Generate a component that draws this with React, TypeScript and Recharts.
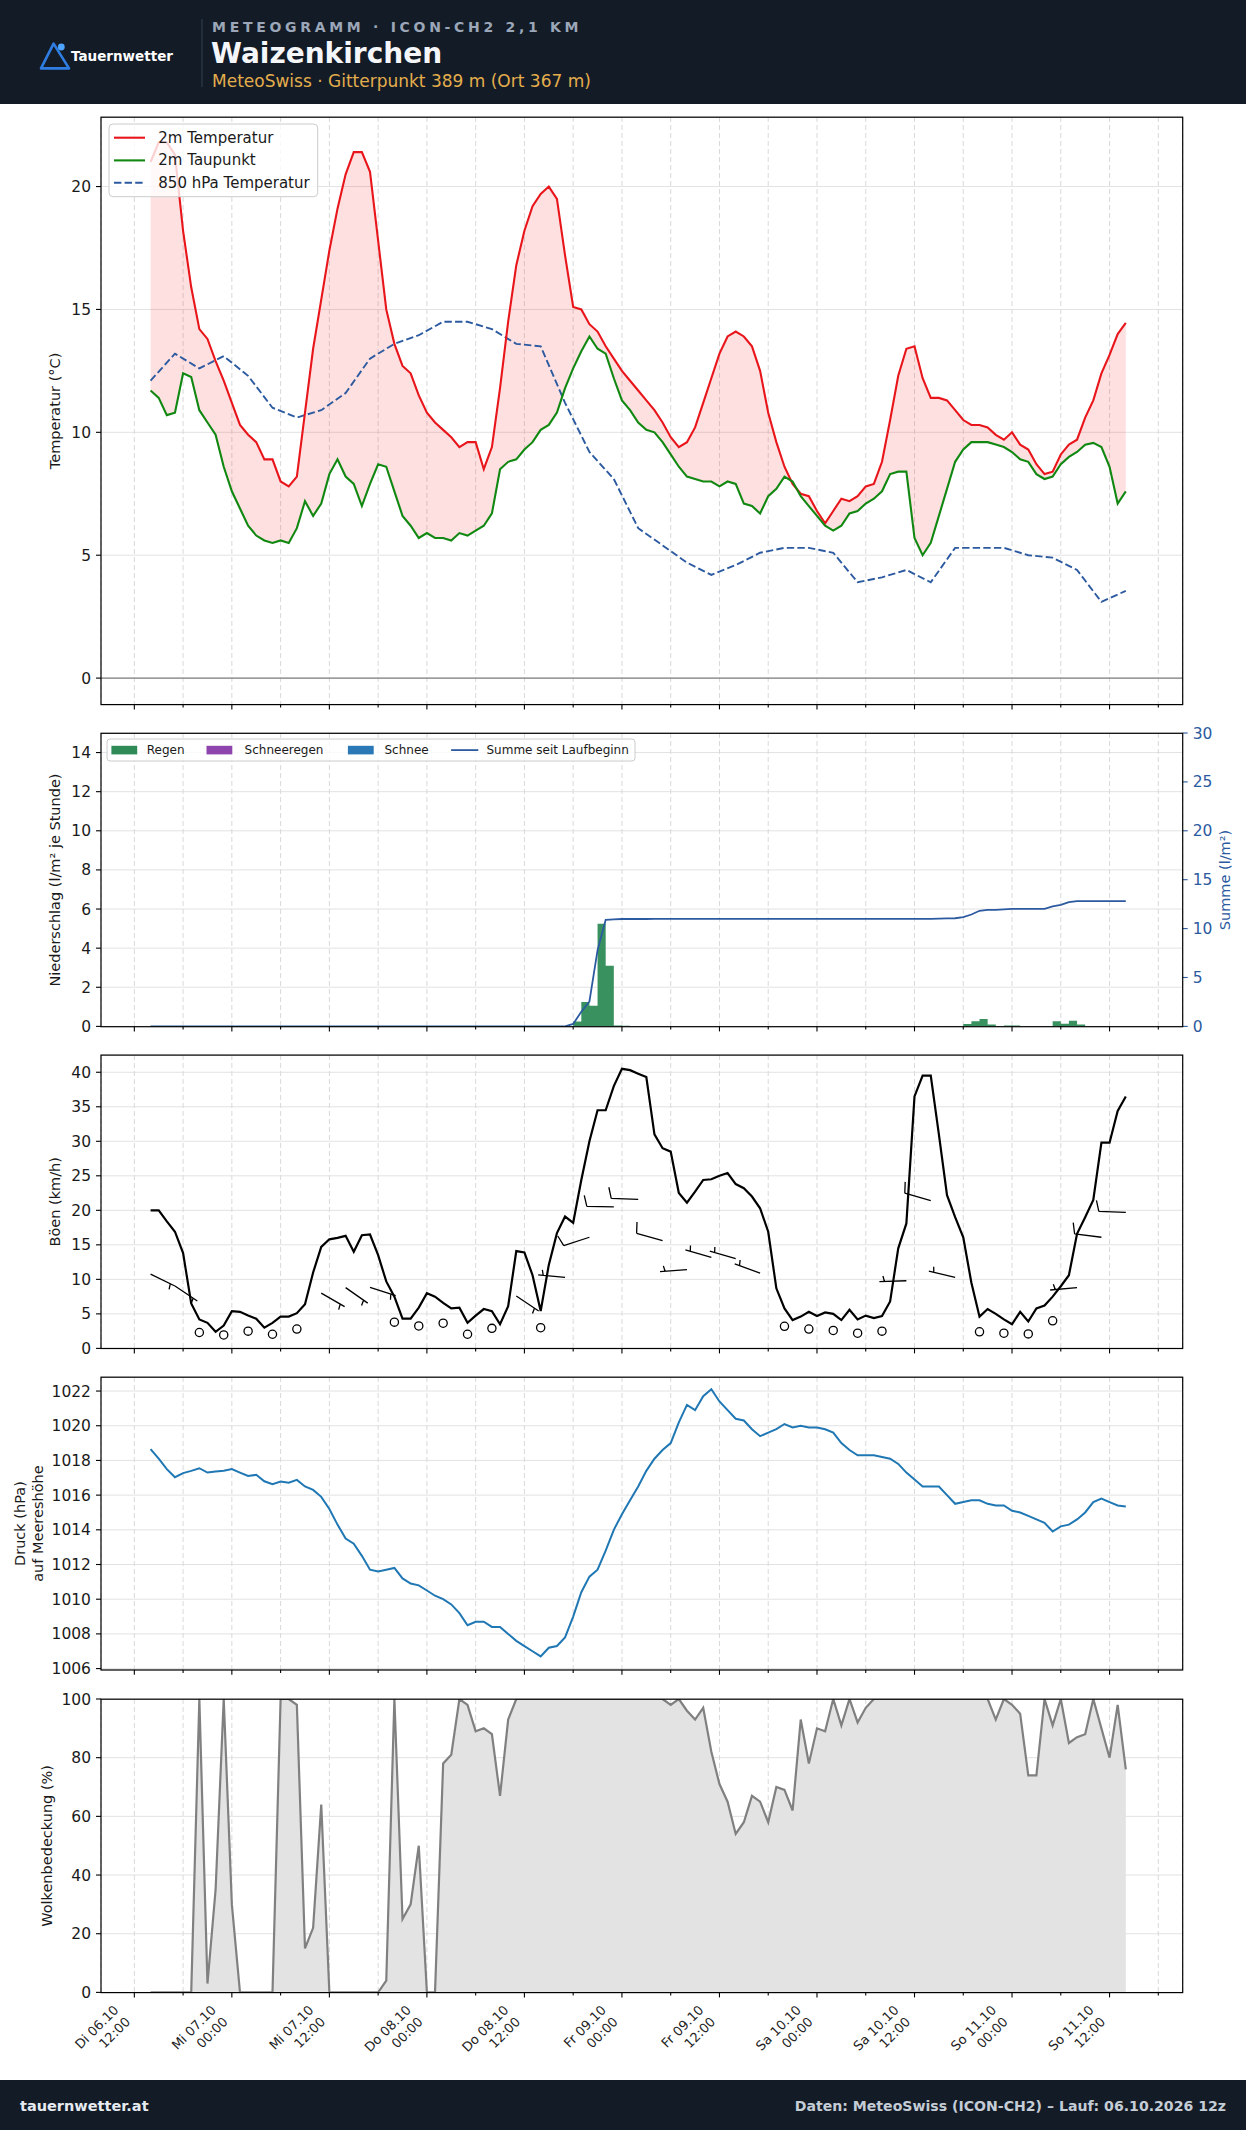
import React from 'react';
import {
  ComposedChart,
  Line,
  Area,
  Scatter,
  XAxis,
  YAxis,
  CartesianGrid,
  ReferenceLine,
} from 'recharts';

const FONT = '"DejaVu Sans", Verdana, sans-serif';

// Hours are counted from Di 06.10 00:00 (local time); the run starts at 14:00.
const START_HOUR = 14;

// ---- hourly model values, Di 06.10 14:00 … So 11.10 14:00 ----
const temp2m = [
  21.0, 21.8, 21.8, 21.3, 18.2, 15.9, 14.2, 13.8, 12.9, 12.1,
  11.2, 10.3, 9.9, 9.6, 8.9, 8.9, 8.0, 7.8, 8.2, 10.8,
  13.4, 15.4, 17.4, 19.1, 20.5, 21.4, 21.4, 20.6, 17.8, 15.0,
  13.6, 12.7, 12.4, 11.5, 10.8, 10.4, 10.1, 9.8, 9.4, 9.6,
  9.6, 8.5, 9.4, 11.8, 14.5, 16.8, 18.2, 19.2, 19.7, 20.0,
  19.5, 17.2, 15.1, 15.0, 14.4, 14.1, 13.5, 13.0, 12.5, 12.1,
  11.7, 11.3, 10.9, 10.4, 9.8, 9.4, 9.6, 10.2, 11.2, 12.2,
  13.2, 13.9, 14.1, 13.9, 13.5, 12.5, 10.8, 9.6, 8.6, 7.9,
  7.5, 7.4, 6.8, 6.3, 6.8, 7.3, 7.2, 7.4, 7.8, 7.9,
  8.8, 10.5, 12.3, 13.4, 13.5, 12.2, 11.4, 11.4, 11.3, 10.9,
  10.5, 10.3, 10.3, 10.2, 9.9, 9.7, 10.0, 9.5, 9.3, 8.7,
  8.3, 8.4, 9.1, 9.5, 9.7, 10.6, 11.3, 12.4, 13.15, 14.0,
  14.45,
];

const dewPoint = [
  11.7, 11.4, 10.7, 10.8, 12.4, 12.25, 10.9, 10.4, 9.9, 8.6,
  7.6, 6.9, 6.2, 5.8, 5.6, 5.5, 5.6, 5.5, 6.1, 7.2,
  6.6, 7.1, 8.3, 8.9, 8.2, 7.9, 7.0, 7.9, 8.7, 8.6,
  7.6, 6.6, 6.2, 5.7, 5.9, 5.7, 5.7, 5.6, 5.9, 5.8,
  6.0, 6.2, 6.7, 8.5, 8.8, 8.9, 9.3, 9.6, 10.1, 10.3,
  10.8, 11.8, 12.6, 13.3, 13.9, 13.4, 13.2, 12.2, 11.3, 10.9,
  10.4, 10.1, 10.0, 9.6, 9.1, 8.6, 8.2, 8.1, 8.0, 8.0,
  7.8, 8.0, 7.9, 7.1, 7.0, 6.7, 7.4, 7.7, 8.2, 8.0,
  7.4, 7.0, 6.6, 6.2, 6.0, 6.2, 6.7, 6.8, 7.1, 7.3,
  7.6, 8.3, 8.4, 8.4, 5.7, 5.0, 5.5, 6.6, 7.7, 8.8,
  9.3, 9.6, 9.6, 9.6, 9.5, 9.4, 9.2, 8.9, 8.8, 8.3,
  8.1, 8.2, 8.7, 9.0, 9.2, 9.5, 9.57, 9.4, 8.6, 7.1,
  7.6,
];

// l/m² in the hour that starts at the given time
const rainPerHour = [
  0, 0, 0, 0, 0, 0, 0, 0, 0, 0,
  0, 0, 0, 0, 0, 0, 0, 0, 0, 0,
  0, 0, 0, 0, 0, 0, 0, 0, 0, 0,
  0, 0, 0, 0, 0, 0, 0, 0, 0, 0,
  0, 0, 0, 0, 0, 0, 0, 0, 0, 0,
  0, 0, 0.25, 1.25, 1.05, 5.25, 3.1, 0.05, 0.03, 0,
  0, 0, 0.02, 0, 0, 0, 0, 0, 0, 0,
  0, 0, 0, 0, 0, 0, 0, 0, 0, 0,
  0, 0, 0, 0, 0, 0, 0, 0, 0, 0,
  0, 0, 0, 0, 0, 0, 0, 0.02, 0.02, 0.02,
  0.12, 0.26, 0.38, 0.1, 0, 0.05, 0.05, 0, 0, 0,
  0, 0.26, 0.14, 0.29, 0.1, 0, 0, 0, 0, 0,
  0,
];

// running total since model start (l/m²)
const rainTotal = [
  0, 0, 0, 0, 0, 0, 0, 0, 0, 0,
  0, 0, 0, 0, 0, 0, 0, 0, 0, 0,
  0, 0, 0, 0, 0, 0, 0, 0, 0, 0,
  0, 0, 0, 0, 0, 0, 0, 0, 0, 0,
  0, 0, 0, 0, 0, 0, 0, 0, 0, 0,
  0, 0, 0.25, 1.5, 2.55, 7.8, 10.9, 10.95, 10.98, 10.98,
  10.98, 10.98, 11.0, 11.0, 11.0, 11.0, 11.0, 11.0, 11.0, 11.0,
  11.0, 11.0, 11.0, 11.0, 11.0, 11.0, 11.0, 11.0, 11.0, 11.0,
  11.0, 11.0, 11.0, 11.0, 11.0, 11.0, 11.0, 11.0, 11.0, 11.0,
  11.0, 11.0, 11.0, 11.0, 11.0, 11.0, 11.0, 11.02, 11.04, 11.06,
  11.18, 11.44, 11.82, 11.92, 11.92, 11.97, 12.02, 12.02, 12.02, 12.02,
  12.02, 12.28, 12.42, 12.71, 12.81, 12.81, 12.81, 12.81, 12.81, 12.81,
  12.81,
];

const gusts = [
  20.0, 20.0, 18.4, 16.9, 13.8, 6.5, 4.2, 3.7, 2.4, 3.3,
  5.4, 5.3, 4.75, 4.3, 3.0, 3.7, 4.6, 4.6, 5.1, 6.4,
  11.0, 14.7, 15.8, 16.0, 16.3, 14.0, 16.4, 16.5, 13.5, 9.7,
  7.5, 4.3, 4.3, 5.9, 8.0, 7.5, 6.6, 5.8, 5.9, 3.7,
  4.75, 5.7, 5.4, 3.5, 6.1, 14.1, 13.9, 10.6, 5.4, 12.1,
  16.7, 19.1, 18.2, 24.4, 30.0, 34.5, 34.5, 38.0, 40.5, 40.3,
  39.8, 39.3, 31.0, 29.0, 28.5, 22.5, 21.1, 22.7, 24.4, 24.5,
  25.0, 25.4, 23.8, 23.2, 22.0, 20.3, 16.9, 8.7, 5.8, 4.1,
  4.6, 5.3, 4.7, 5.2, 5.0, 4.1, 5.6, 4.2, 4.75, 4.4,
  4.7, 6.8, 14.5, 18.1, 36.5, 39.5, 39.5, 31.0, 22.2, 19.0,
  16.1, 9.5, 4.6, 5.7, 5.0, 4.2, 3.5, 5.3, 3.9, 5.8,
  6.2, 7.5, 9.0, 10.6, 16.6, 19.0, 21.5, 29.8, 29.8, 34.4,
  36.5,
];

const pressureMsl = [
  1018.65, 1018.1, 1017.5, 1017.03, 1017.27, 1017.4, 1017.55, 1017.3, 1017.36, 1017.4,
  1017.5, 1017.3, 1017.1, 1017.17, 1016.8, 1016.63, 1016.78, 1016.72, 1016.88, 1016.5,
  1016.3, 1015.9, 1015.2, 1014.3, 1013.5, 1013.2, 1012.5, 1011.7, 1011.6, 1011.7,
  1011.8, 1011.2, 1010.9, 1010.8, 1010.5, 1010.2, 1010.0, 1009.7, 1009.2, 1008.5,
  1008.7, 1008.7, 1008.4, 1008.4, 1008.0, 1007.6, 1007.3, 1007.0, 1006.7, 1007.2,
  1007.3, 1007.8, 1009.0, 1010.4, 1011.3, 1011.7, 1012.8, 1014.0, 1014.9, 1015.7,
  1016.5, 1017.4, 1018.1, 1018.6, 1019.0, 1020.2, 1021.2, 1020.9, 1021.7, 1022.1,
  1021.4, 1020.9, 1020.4, 1020.3, 1019.8, 1019.4, 1019.6, 1019.8, 1020.1, 1019.9,
  1020.0, 1019.9, 1019.9, 1019.8, 1019.6, 1019.0, 1018.6, 1018.3, 1018.3, 1018.3,
  1018.2, 1018.1, 1017.8, 1017.3, 1016.9, 1016.5, 1016.5, 1016.5, 1016.0, 1015.5,
  1015.6, 1015.7, 1015.7, 1015.5, 1015.4, 1015.4, 1015.1, 1015.0, 1014.8, 1014.6,
  1014.4, 1013.9, 1014.2, 1014.3, 1014.6, 1015.0, 1015.6, 1015.8, 1015.6, 1015.4,
  1015.35,
];

const cloudCover = [
  0, 0, 0, 0, 0, 0, 100, 3, 35, 100,
  30, 0, 0, 0, 0, 0, 100, 100, 98, 15,
  22, 64, 0, 0, 0, 0, 0, 0, 0, 4,
  100, 25, 30, 50, 0, 0, 78, 81, 100, 98,
  89, 90, 88, 67, 93, 100, 100, 100, 100, 100,
  100, 100, 100, 100, 100, 100, 100, 100, 100, 100,
  100, 100, 100, 100, 98, 100, 96, 93, 97, 82,
  71, 65, 54, 58, 67, 65, 58, 70, 69, 62,
  93, 78, 90, 89, 100, 91, 100, 92, 97, 100,
  100, 100, 100, 100, 100, 100, 100, 100, 100, 100,
  100, 100, 100, 100, 93, 100, 98, 95, 74, 74,
  100, 91, 100, 85, 87, 88, 100, 90, 80, 98,
  76,
];

// ---- 3-hourly values ----
const temp850 = [
  12.1, 13.2, 12.6, 13.1, 12.3, 11.0, 10.6, 10.9, 11.6, 13.0,
  13.6, 13.95, 14.5, 14.5, 14.2, 13.6, 13.5, 11.2, 9.2, 8.1,
  6.1, 5.4, 4.7, 4.2, 4.6, 5.1, 5.3, 5.3, 5.1, 3.9,
  4.1, 4.4, 3.9, 5.3, 5.3, 5.3, 5.0, 4.9, 4.4, 3.1,
  3.55,
];

// mean wind (km/h) and direction it blows from (degrees)
const windSpeed = [
  10.75, 9.05, 2.3, 1.95, 2.5, 2.05, 2.8, 8.0, 8.8, 8.85,
  3.8, 3.25, 3.65, 2.05, 2.9, 7.6, 3.0, 10.3, 16.1, 20.5,
  21.6, 15.6, 11.4, 13.2, 13.0, 10.9, 3.2, 2.8, 2.6, 2.2,
  2.5, 9.8, 21.4, 10.3, 2.4, 2.2, 2.1, 4.0, 8.8, 16.1,
  19.7,
];
const windDir = [
  116, 124, 120, 120, 120, 120, 120, 120, 125, 108,
  110, 115, 120, 120, 120, 124, 200, 275, 252, 271,
  272, 286, 266, 286, 286, 290, 280, 280, 280, 280,
  270, 268, 286, 283, 280, 280, 280, 270, 265, 277,
  272,
];

const xTicks = [12, 18, 24, 30, 36, 42, 48, 54, 60, 66, 72, 78, 84, 90, 96, 102, 108, 114, 120, 126, 132, 138];
const xLabels: Record<number, [string, string]> = {
  12: ['Di 06.10', '12:00'],
  24: ['Mi 07.10', '00:00'],
  36: ['Mi 07.10', '12:00'],
  48: ['Do 08.10', '00:00'],
  60: ['Do 08.10', '12:00'],
  72: ['Fr 09.10', '00:00'],
  84: ['Fr 09.10', '12:00'],
  96: ['Sa 10.10', '00:00'],
  108: ['Sa 10.10', '12:00'],
  120: ['So 11.10', '00:00'],
  132: ['So 11.10', '12:00'],
};

const hourly = temp2m.map((t, i) => ({
  hour: START_HOUR + i,
  temp: t,
  dew: dewPoint[i],
  precip: rainPerHour[i],
  total: rainTotal[i],
  gust: gusts[i],
  pressure: pressureMsl[i],
  cloud: cloudCover[i],
}));

const threeHourly = temp850.map((t, i) => ({
  hour: START_HOUR + 3 * i,
  t850: t,
  speed: windSpeed[i],
  dir: windDir[i],
}));

// ---- layout ----
const PAGE_W = 1246;
const PLOT_LEFT = 101;
const PLOT_W = 1081.7;
const RIGHT_GAP = PAGE_W - PLOT_LEFT - PLOT_W;
const TOP_PAD = 10;

const P = {
  temp: { top: 117.2, height: 587.4 },
  rain: { top: 733.3, height: 293.4 },
  gust: { top: 1055.1, height: 293.4 },
  pres: { top: 1377.2, height: 292.8 },
  cloud: { top: 1699.2, height: 293.4 },
};

const TICK_FONT = 15.5;
const LABEL_FONT = 14.5;

function HourTick(props: any, withLabels: boolean) {
  const { x, y, payload } = props;
  const h = payload.value as number;
  const major = h % 12 === 0;
  const label = withLabels && major ? xLabels[h] : undefined;
  return (
    <g>
      <line x1={x} x2={x} y1={y} y2={y + (major ? 5 : 3.2)} stroke="#000" strokeWidth={1.1} />
      {label && (
        <g transform={`translate(${x - 23.5},${y + 10}) rotate(-45)`}>
          <text textAnchor="end" fontSize={13} fill="#222" fontFamily={FONT}>
            <tspan x={0} y={12}>{label[0]}</tspan>
            <tspan x={0} y={28.5}>{label[1]}</tspan>
          </text>
        </g>
      )}
    </g>
  );
}

function timeAxis(withLabels: boolean) {
  return (
    <XAxis
      type="number"
      dataKey="hour"
      domain={[7.9, 141]}
      allowDataOverflow
      ticks={xTicks}
      interval={0}
      tickSize={0}
      tickMargin={0}
      tickLine={false}
      axisLine={false}
      height={withLabels ? 110 : 20}
      tick={(p: any) => HourTick(p, withLabels)}
    />
  );
}

function valueAxis(domain: [number, number], ticks: number[]) {
  return (
    <YAxis
      type="number"
      domain={domain}
      ticks={ticks}
      allowDataOverflow
      interval={0}
      width={PLOT_LEFT}
      axisLine={false}
      tickLine={{ stroke: '#000', strokeWidth: 1.1 }}
      tickSize={5}
      tickMargin={5}
      tick={{ fontSize: TICK_FONT, fill: '#1a1a1a', fontFamily: FONT }}
    />
  );
}

function grids() {
  return [
    <CartesianGrid key="h" vertical={false} stroke="#e2e2e2" strokeWidth={1} />,
    <CartesianGrid key="v" horizontal={false} stroke="#d9d9d9" strokeWidth={1} strokeDasharray="5 3" />,
  ];
}

function WindBarb(props: any) {
  const { cx, cy, payload } = props;
  if (cx == null || cy == null) return <g />;
  const knots = Math.round(payload.speed / 1.852 / 5) * 5;
  if (knots === 0) {
    return <circle cx={cx} cy={cy} r={4.1} fill="none" stroke="#000" strokeWidth={1.3} />;
  }
  const a = (payload.dir * Math.PI) / 180;
  const ux = Math.sin(a);
  const uy = -Math.cos(a);
  const px = -uy;
  const py = ux;
  const L = 27;
  const H = 11;
  const S = 3.4;
  const TILT = 0.25;
  const fulls = Math.floor(knots / 10);
  const half = knots % 10 >= 5;
  let d = `M${cx},${cy}L${cx + ux * L},${cy + uy * L}`;
  let off = L;
  for (let i = 0; i < fulls; i++) {
    const bx = cx + ux * off;
    const by = cy + uy * off;
    d += `M${bx},${by}L${bx + px * H + ux * H * TILT},${by + py * H + uy * H * TILT}`;
    off -= S;
  }
  if (half) {
    if (fulls === 0) off = L - 1.5 * S;
    const bx = cx + ux * off;
    const by = cy + uy * off;
    d += `M${bx},${by}L${bx + (px * H) / 2 + (ux * H * TILT) / 2},${by + (py * H) / 2 + (uy * H * TILT) / 2}`;
  }
  return <path d={d} stroke="#000" strokeWidth={1.3} fill="none" />;
}

function chartBox(p: { top: number }) {
  return { position: 'absolute' as const, left: 0, top: p.top - TOP_PAD };
}

function YLabel({ x, cy, text, color = '#1a1a1a' }: { x: number; cy: number; text: string; color?: string }) {
  return (
    <text
      x={x}
      y={cy}
      transform={`rotate(-90 ${x} ${cy})`}
      textAnchor="middle"
      dominantBaseline="central"
      fontSize={LABEL_FONT}
      fill={color}
    >
      {text}
    </text>
  );
}

function Frame({ p }: { p: { top: number; height: number } }) {
  return <rect x={PLOT_LEFT} y={p.top} width={PLOT_W} height={p.height} fill="none" stroke="#000" strokeWidth={1.2} />;
}

const BLUE = '#2c5aa0';

export default function App() {
  const mid = (p: { top: number; height: number }) => p.top + p.height / 2;
  return (
    <div style={{ position: 'absolute', left: 0, top: 0, width: PAGE_W, height: 2130, background: '#fff', fontFamily: FONT, overflow: 'hidden' }}>
      {/* Temperatures */}
      <div style={chartBox(P.temp)}>
        <ComposedChart width={PAGE_W} height={TOP_PAD + P.temp.height + 20} data={hourly} margin={{ top: TOP_PAD, right: RIGHT_GAP, bottom: 0, left: 0 }}>
          {grids()}
          {timeAxis(false)}
          {valueAxis([-1.07, 22.83], [0, 5, 10, 15, 20])}
          <Area dataKey={(d: any) => [d.dew, d.temp]} type="linear" stroke="none" fill="#ff0000" fillOpacity={0.12} isAnimationActive={false} />
          <ReferenceLine y={0} stroke="#808080" strokeWidth={1.3} />
          <Line data={threeHourly} dataKey="t850" type="linear" stroke={BLUE} strokeWidth={1.9} strokeDasharray="7.4 3.2" dot={false} isAnimationActive={false} />
          <Line dataKey="temp" type="linear" stroke="#e8151b" strokeWidth={2.1} dot={false} isAnimationActive={false} />
          <Line dataKey="dew" type="linear" stroke="#118811" strokeWidth={2.1} dot={false} isAnimationActive={false} />
        </ComposedChart>
      </div>

      {/* Precipitation */}
      <div style={chartBox(P.rain)}>
        <ComposedChart width={PAGE_W} height={TOP_PAD + P.rain.height + 20} data={hourly} margin={{ top: TOP_PAD, right: 0, bottom: 0, left: 0 }}>
          {grids()}
          {timeAxis(false)}
          {valueAxis([0, 15], [0, 2, 4, 6, 8, 10, 12, 14])}
          <YAxis
            yAxisId="total"
            orientation="right"
            type="number"
            domain={[0, 30]}
            ticks={[0, 5, 10, 15, 20, 25, 30]}
            allowDataOverflow
            interval={0}
            width={RIGHT_GAP}
            axisLine={false}
            tickLine={{ stroke: BLUE, strokeWidth: 1.1 }}
            tickSize={5}
            tickMargin={5}
            tick={{ fontSize: TICK_FONT, fill: BLUE, fontFamily: FONT }}
          />
          <Area dataKey="precip" type="stepAfter" stroke="none" fill="#2e8b57" fillOpacity={0.95} isAnimationActive={false} />
          <Line yAxisId="total" dataKey="total" type="linear" stroke={BLUE} strokeWidth={1.8} dot={false} isAnimationActive={false} />
        </ComposedChart>
      </div>

      {/* Gusts and wind barbs */}
      <div style={chartBox(P.gust)}>
        <ComposedChart width={PAGE_W} height={TOP_PAD + P.gust.height + 20} data={hourly} margin={{ top: TOP_PAD, right: RIGHT_GAP, bottom: 0, left: 0 }}>
          {grids()}
          {timeAxis(false)}
          {valueAxis([0, 42.5], [0, 5, 10, 15, 20, 25, 30, 35, 40])}
          <Line dataKey="gust" type="linear" stroke="#000" strokeWidth={2.2} dot={false} isAnimationActive={false} />
          <Scatter data={threeHourly} dataKey="speed" shape={WindBarb} isAnimationActive={false} />
        </ComposedChart>
      </div>

      {/* Pressure */}
      <div style={chartBox(P.pres)}>
        <ComposedChart width={PAGE_W} height={TOP_PAD + P.pres.height + 20} data={hourly} margin={{ top: TOP_PAD, right: RIGHT_GAP, bottom: 0, left: 0 }}>
          {grids()}
          {timeAxis(false)}
          {valueAxis([1005.93, 1022.81], [1006, 1008, 1010, 1012, 1014, 1016, 1018, 1020, 1022])}
          <Line dataKey="pressure" type="linear" stroke="#1f77b4" strokeWidth={2} dot={false} isAnimationActive={false} />
        </ComposedChart>
      </div>

      {/* Cloud cover */}
      <div style={chartBox(P.cloud)}>
        <ComposedChart width={PAGE_W} height={TOP_PAD + P.cloud.height + 110} data={hourly} margin={{ top: TOP_PAD, right: RIGHT_GAP, bottom: 0, left: 0 }}>
          {grids()}
          {timeAxis(true)}
          {valueAxis([0, 100], [0, 20, 40, 60, 80, 100])}
          <Area dataKey="cloud" type="linear" stroke="#808080" strokeWidth={2.2} fill="#e3e3e3" fillOpacity={1} isAnimationActive={false} />
        </ComposedChart>
      </div>

      <svg width={PAGE_W} height={2130} style={{ position: 'absolute', left: 0, top: 0, pointerEvents: 'none' }} fontFamily={FONT}>
        {/* header */}
        <rect x={0} y={0} width={PAGE_W} height={104} fill="#131b27" />
        <path d="M41,68.4 L53.6,43.6 L69,68.4 Z" fill="none" stroke="#2f7de1" strokeWidth={2.6} strokeLinejoin="round" />
        <circle cx={61.3} cy={47} r={3.4} fill="#4ea5ff" />
        <text x={71} y={61} fontSize={13.5} fontWeight="bold" fill="#ffffff">Tauernwetter</text>
        <line x1={202} y1={19} x2={202} y2={87} stroke="#334050" strokeWidth={1} />
        <text x={212} y={32.3} fontSize={14} fontWeight="bold" fill="#9ba7b8" letterSpacing={3.7}>METEOGRAMM · ICON-CH2 2,1 KM</text>
        <text x={211} y={62.5} fontSize={28} fontWeight="bold" fill="#f4f6fa">Waizenkirchen</text>
        <text x={212} y={86.8} fontSize={17} fill="#e3ae4c">MeteoSwiss · Gitterpunkt 389 m (Ort 367 m)</text>

        {/* panel frames */}
        <Frame p={P.temp} />
        <Frame p={P.rain} />
        <Frame p={P.gust} />
        <Frame p={P.pres} />
        <Frame p={P.cloud} />

        {/* axis titles */}
        <YLabel x={55} cy={mid(P.temp)} text="Temperatur (°C)" />
        <YLabel x={55} cy={mid(P.rain)} text="Niederschlag (l/m² je Stunde)" />
        <YLabel x={1225} cy={mid(P.rain)} text="Summe (l/m²)" color={BLUE} />
        <YLabel x={55} cy={mid(P.gust)} text="Böen (km/h)" />
        <YLabel x={20} cy={mid(P.pres)} text="Druck (hPa)" />
        <YLabel x={38} cy={mid(P.pres)} text="auf Meereshöhe" />
        <YLabel x={47} cy={mid(P.cloud)} text="Wolkenbedeckung (%)" />

        {/* temperature legend */}
        <rect x={109} y={124} width={208.7} height={72.7} rx={4} fill="#ffffff" fillOpacity={0.8} stroke="#cccccc" strokeWidth={1} />
        <line x1={114} x2={145} y1={137.7} y2={137.7} stroke="#e8151b" strokeWidth={2.1} />
        <text x={158.3} y={137.7} dominantBaseline="central" fontSize={15} fill="#1a1a1a">2m Temperatur</text>
        <line x1={114} x2={145} y1={160.4} y2={160.4} stroke="#118811" strokeWidth={2.1} />
        <text x={158.3} y={160.4} dominantBaseline="central" fontSize={15} fill="#1a1a1a">2m Taupunkt</text>
        <line x1={114} x2={145} y1={182.8} y2={182.8} stroke={BLUE} strokeWidth={1.9} strokeDasharray="7.4 3.2" />
        <text x={158.3} y={182.8} dominantBaseline="central" fontSize={15} fill="#1a1a1a">850 hPa Temperatur</text>

        {/* precipitation legend */}
        <rect x={107} y={739} width={528} height={22} rx={3} fill="#ffffff" fillOpacity={0.8} stroke="#cccccc" strokeWidth={1} />
        <rect x={111.4} y={745.8} width={25.8} height={8.6} fill="#2e8b57" />
        <text x={146.8} y={750.1} dominantBaseline="central" fontSize={12} fill="#1a1a1a">Regen</text>
        <rect x={206.5} y={745.8} width={25.8} height={8.6} fill="#8e44ad" />
        <text x={244.6} y={750.1} dominantBaseline="central" fontSize={12} fill="#1a1a1a">Schneeregen</text>
        <rect x={347.9} y={745.8} width={25.8} height={8.6} fill="#2a78b5" />
        <text x={384.5} y={750.1} dominantBaseline="central" fontSize={12} fill="#1a1a1a">Schnee</text>
        <line x1={451.1} x2={478.3} y1={750.1} y2={750.1} stroke={BLUE} strokeWidth={1.8} />
        <text x={486.5} y={750.1} dominantBaseline="central" fontSize={12} fill="#1a1a1a">Summe seit Laufbeginn</text>

        {/* footer */}
        <rect x={0} y={2080} width={PAGE_W} height={50} fill="#131b27" />
        <text x={20} y={2111} fontSize={14.5} fontWeight="bold" fill="#e6ebf1">tauernwetter.at</text>
        <text x={1226} y={2111} textAnchor="end" fontSize={14.1} fontWeight="bold" fill="#c4ccd6">Daten: MeteoSwiss (ICON-CH2) – Lauf: 06.10.2026 12z</text>
      </svg>
    </div>
  );
}
